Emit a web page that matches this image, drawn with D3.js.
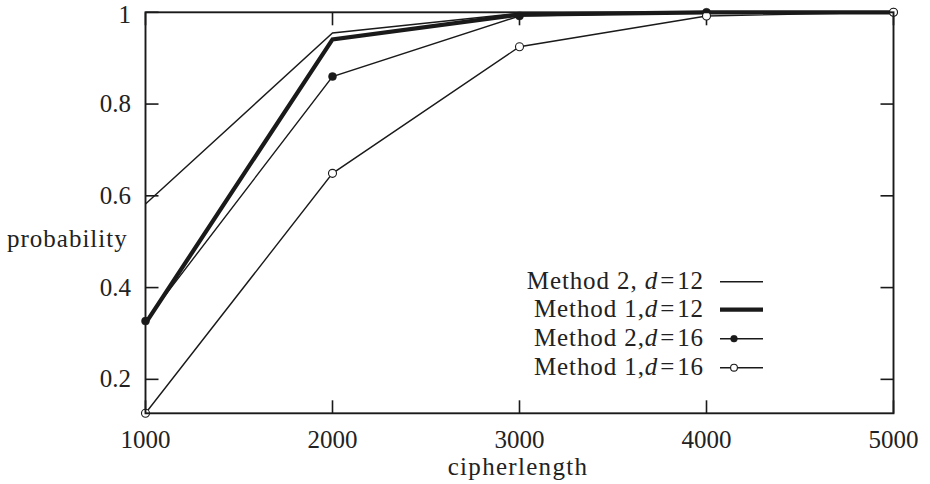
<!DOCTYPE html>
<html>
<head>
<meta charset="utf-8">
<script src="https://cdn.jsdelivr.net/npm/d3@7"></script>
<style>
html,body{margin:0;padding:0;background:#fff;}
svg{display:block;}
text{font-family:"Liberation Serif","Times New Roman",serif;fill:#222;}
</style>
</head>
<body>
<svg id="chart" width="930" height="484"></svg>
<script>
// ---- data ----
const cipherLengths = [1000, 2000, 3000, 4000, 5000];
const method2d12 = [0.582, 0.955, 0.998, 1.0, 1.0];
const method1d12 = [0.322, 0.941, 0.995, 1.0, 1.0];
const method2d16 = [0.327, 0.860, 0.992, 1.0, 1.0];
const method1d16 = [0.126, 0.649, 0.925, 0.992, 1.0];
const xTicks = [1000, 2000, 3000, 4000, 5000];
const yTicks = [0.2, 0.4, 0.6, 0.8, 1];
const seriesNames = ["Method 2, ", "Method 1,", "Method 2,", "Method 1,"];
const seriesD = ["12", "12", "16", "16"];

const svg = d3.select("#chart");
const L = 145.5, R = 893.5, T = 12.3, B = 413.3;
const x = d3.scaleLinear().domain([1000, 5000]).range([L, R]);
const y = d3.scaleLinear().domain([0.126, 1]).range([B, T]);
const ink = "#1a1a1a";
const tick = 13;

// ticks (mirrored, inward)
const g = svg.append("g");
xTicks.forEach(v => {
  g.append("line").attr("x1", x(v)).attr("x2", x(v)).attr("y1", B).attr("y2", B - tick)
    .attr("stroke", ink).attr("stroke-width", 1.6);
  g.append("line").attr("x1", x(v)).attr("x2", x(v)).attr("y1", T).attr("y2", T + tick)
    .attr("stroke", ink).attr("stroke-width", 1.6);
  g.append("text").attr("x", x(v)).attr("y", 448).attr("text-anchor", "middle")
    .attr("font-size", 25).text(v);
});
yTicks.forEach(v => {
  g.append("line").attr("x1", L).attr("x2", L + tick).attr("y1", y(v)).attr("y2", y(v))
    .attr("stroke", ink).attr("stroke-width", 1.6);
  g.append("line").attr("x1", R).attr("x2", R - tick).attr("y1", y(v)).attr("y2", y(v))
    .attr("stroke", ink).attr("stroke-width", 1.6);
  g.append("text").attr("x", 131).attr("y", Math.max(y(v) + 8, 22.5)).attr("text-anchor", "end")
    .attr("font-size", 25).text(d3.format("~g")(v));
});

// axis labels
svg.append("text").attr("x", 7).attr("y", 247).attr("font-size", 25)
  .attr("letter-spacing", 1).text("probability");
svg.append("text").attr("x", 518).attr("y", 475).attr("text-anchor", "middle")
  .attr("font-size", 25).attr("letter-spacing", 1.3).text("cipherlength");

// series
const series = [
  {vals: method2d12, w: 1.4, marker: null},
  {vals: method1d12, w: 4.2, marker: null},
  {vals: method2d16, w: 1.4, marker: "filled"},
  {vals: method1d16, w: 1.4, marker: "open"}
];
const line = d3.line().x((d, i) => x(cipherLengths[i])).y(d => y(d));
series.forEach(s => {
  svg.append("path").datum(s.vals).attr("d", line).attr("fill", "none")
    .attr("stroke", ink).attr("stroke-width", s.w).attr("stroke-linejoin", "miter");
  if (s.marker) {
    svg.selectAll(null).data(s.vals).enter().append("circle")
      .attr("cx", (d, i) => x(cipherLengths[i])).attr("cy", d => y(d)).attr("r", 4)
      .attr("fill", s.marker === "filled" ? ink : "#fff")
      .attr("stroke", ink).attr("stroke-width", s.marker === "filled" ? 0.5 : 1.1);
  }
});

// border
svg.append("rect").attr("x", L).attr("y", T).attr("width", R - L).attr("height", B - T)
  .attr("fill", "none").attr("stroke", ink).attr("stroke-width", 1.9);

// legend
const rowY = [281.7, 309.7, 338.7, 367.7];
series.forEach((s, i) => {
  const ty = rowY[i];
  const t = svg.append("text").attr("x", 704).attr("y", ty + 7).attr("text-anchor", "end")
    .attr("font-size", 25).attr("letter-spacing", 0.9);
  t.append("tspan").text(seriesNames[i]);
  t.append("tspan").attr("font-style", "italic").text("d");
  t.append("tspan").attr("dx", 2).text("=");
  t.append("tspan").attr("dx", 2).text(seriesD[i]);
  svg.append("line").attr("x1", 720).attr("x2", 763).attr("y1", ty).attr("y2", ty)
    .attr("stroke", ink).attr("stroke-width", s.w);
  if (s.marker) {
    svg.append("circle").attr("cx", 734).attr("cy", ty).attr("r", 3.4)
      .attr("fill", s.marker === "filled" ? ink : "#fff")
      .attr("stroke", ink).attr("stroke-width", s.marker === "filled" ? 0.5 : 1.1);
  }
});
</script>
</body>
</html>
